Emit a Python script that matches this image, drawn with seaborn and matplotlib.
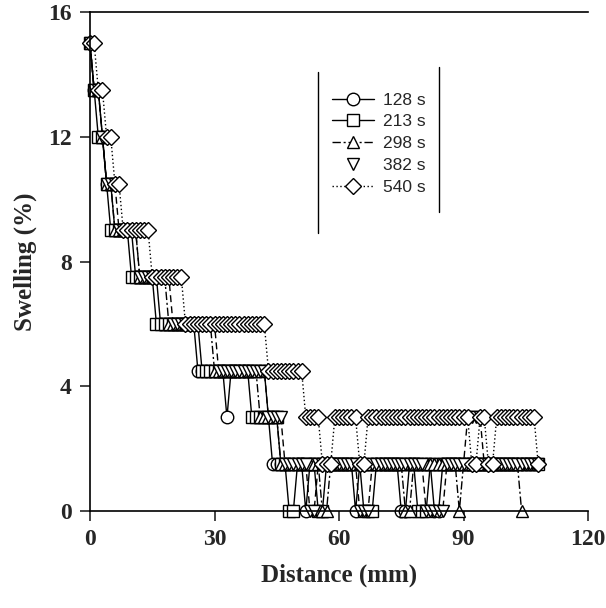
import matplotlib
matplotlib.use("Agg")
import matplotlib.pyplot as plt
from matplotlib.lines import Line2D
import numpy as np
import pandas as pd
import seaborn as sns

# ---- data ----
distance_mm = list(range(0, 109))  # sampling positions, 1 mm apart

swell_128 = ([15]*1 + [13.5]*2 + [12]*1 + [10.5]*2 + [9]*5 + [7.5]*6 + [6]*9 +
             [4.5]*7 + [3]*1 + [4.5]*9 + [3]*1 + [1.5]*8 + [0]*1 + [1.5]*11 +
             [0]*1 + [1.5]*10 + [0]*2 + [1.5]*6 + [0]*2 + [1.5]*24)
swell_213 = ([15]*1 + [13.5]*1 + [12]*2 + [10.5]*1 + [9]*5 + [7.5]*6 + [6]*11 +
             [4.5]*12 + [3]*7 + [1.5]*2 + [0]*2 + [1.5]*5 + [0]*2 + [1.5]*9 +
             [0]*3 + [1.5]*10 + [0]*3 + [1.5]*27)
swell_298 = ([15]*1 + [13.5]*2 + [12]*1 + [10.5]*2 + [9]*6 + [7.5]*7 + [6]*11 +
             [4.5]*11 + [3]*5 + [1.5]*10 + [0]*2 + [1.5]*18 + [0]*2 + [1.5]*11 +
             [0]*1 + [1.5]*14 + [0]*1)
swell_382 = ([15]*1 + [13.5]*2 + [12]*1 + [10.5]*3 + [9]*5 + [7.5]*8 + [6]*11 +
             [4.5]*12 + [3]*4 + [1.5]*6 + [0]*2 + [1.5]*10 + [0]*3 + [1.5]*13 +
             [0]*5 + [1.5]*5 + [3]*4 + [1.5]*14)
swell_540 = ([15]*2 + [13.5]*2 + [12]*2 + [10.5]*2 + [9]*7 + [7.5]*8 + [6]*20 +
             [4.5]*9 + [3]*4 + [1.5]*3 + [3]*6 + [1.5]*2 + [3]*25 + [1.5]*2 +
             [3]*2 + [1.5]*2 + [3]*10 + [1.5]*1)

series_labels = ["128 s", "213 s", "298 s", "382 s", "540 s"]
series_values = [swell_128, swell_213, swell_298, swell_382, swell_540]

x_ticks = [0, 30, 60, 90, 120]
y_ticks = [0, 4, 8, 12, 16]

# ---- styles ----
markers = ["o", "s", "^", "v", "D"]
marker_sizes = [9, 8.5, 9, 9, 8]
linestyles = ["-", "-", (0, (6, 2, 1.5, 2)), (0, (5, 3)), (0, (1, 1.8))]

sns.set_style("ticks")
plt.rcParams["font.family"] = ["Liberation Serif", "DejaVu Serif"]

fig = plt.figure(figsize=(6.06, 6.08), dpi=100)
ax = fig.add_axes([90/606, (608-511)/608, 498/606, 499/608])

for lab, vals, m, ms, ls in zip(series_labels, series_values, markers, marker_sizes, linestyles):
    df = pd.DataFrame({"distance": distance_mm[:len(vals)], "swelling": vals})
    sns.lineplot(data=df, x="distance", y="swelling", ax=ax, estimator=None, sort=False,
                 color="black", linewidth=1.0, linestyle=ls, marker=m, markersize=ms,
                 markerfacecolor="white", markeredgecolor="black", markeredgewidth=1.0,
                 clip_on=False, legend=False)

ax.set_xlim(0, 120)
ax.set_ylim(0, 16)
ax.set_xticks(x_ticks)
ax.set_yticks(y_ticks)
ax.tick_params(direction="out", length=7, width=1.2, labelsize=17, pad=6)
for t in ax.get_xticklabels() + ax.get_yticklabels():
    t.set_fontweight("bold")
for s in ["left", "bottom", "top"]:
    ax.spines[s].set_linewidth(1.2)
    ax.spines[s].set_color("black")
ax.spines["right"].set_visible(False)
ax.set_xlabel("Distance (mm)", fontsize=18, fontweight="bold", labelpad=10)
ax.set_ylabel("Swelling (%)", fontsize=18, fontweight="bold", labelpad=8)

# legend
handles = []
leg_ls = ["-", "-", (0, (6, 2, 1.5, 2)), "none", (0, (1, 1.8))]
for lab, m, ms, ls in zip(series_labels, markers, marker_sizes, leg_ls):
    handles.append(Line2D([], [], color="black", linewidth=1.0, linestyle=ls, marker=m,
                          markersize=ms, markerfacecolor="white", markeredgecolor="black",
                          markeredgewidth=1.0, label=lab))
leg = ax.legend(handles=handles, loc="upper left", bbox_to_anchor=(0.455, 0.87),
                frameon=False, handlelength=2.4, handletextpad=0.55, labelspacing=0.38,
                prop={"family": ["Liberation Sans", "DejaVu Sans"], "size": 12.5})
ax.plot([0.458, 0.458], [0.557, 0.88], transform=ax.transAxes, color="black", lw=1.0)
ax.plot([0.700, 0.700], [0.60, 0.89], transform=ax.transAxes, color="black", lw=1.0)

fig.savefig("out.png", dpi=100)
